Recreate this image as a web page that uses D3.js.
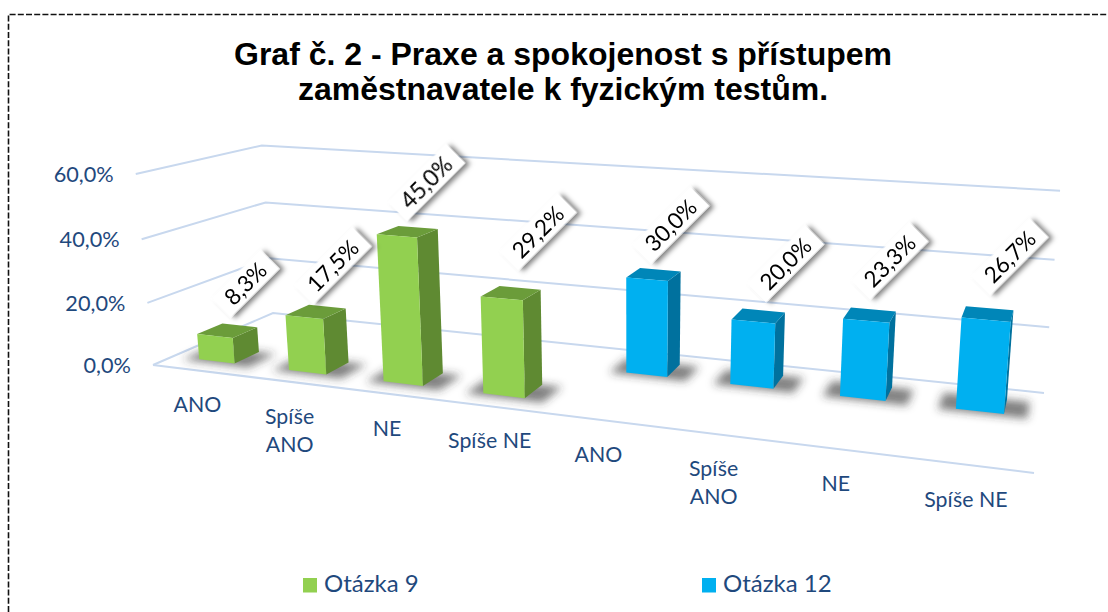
<!DOCTYPE html>
<html lang="cs">
<head>
<meta charset="utf-8">
<script src="https://cdn.jsdelivr.net/npm/d3@7"></script>
<style>
html,body{margin:0;padding:0;background:#fff;overflow:hidden}
svg{display:block}
</style>
</head>
<body>
<svg id="c" width="1108" height="612"></svg>
<script>
// ---- data ----
const titleLines = ["Graf č. 2 - Praxe a spokojenost s přístupem", "zaměstnavatele k fyzickým testům."];
const categories = ["ANO", "Spíše ANO", "NE", "Spíše NE", "ANO", "Spíše ANO", "NE", "Spíše NE"];
const seriesNames = ["Otázka 9", "Otázka 12"];
const valuesQ9 = [8.3, 17.5, 45.0, 29.2];
const valuesQ12 = [30.0, 20.0, 23.3, 26.7];
const yTicks = [0, 20, 40, 60];

// ---- palette ----
const palette = {
  "Otázka 9":  {front: "#92d050", side: "#5f8a32", top: "#6b9c3a"},
  "Otázka 12": {front: "#00b0f0", side: "#00719e", top: "#0086b8"}
};
const inkBlue = "#1f497d", gridCol = "#c8d8ee";

// ---- layout: hand-placed offsets of the value callouts, in slot order
const labelNudge = [[-4,2],[-5,3],[-3,0],[5,-12],[-5,0],[5,-3],[-2,-5],[0,-8]];

// ---- 3D camera: floor quad (front-left, front-right, back-right, back-left) plus vertical terms
const floorQuad = [[153,365],[1034,473],[1044,393],[273,313]];
const lift = {px:-22, py:-197, q:-0.035};

function camera(q){
  const [[x0,y0],[x1,y1],[x2,y2],[x3,y3]] = q;
  const dx1=x1-x2, dx2=x3-x2, sx=x0-x1+x2-x3, dy1=y1-y2, dy2=y3-y2, sy=y0-y1+y2-y3;
  const den=dx1*dy2-dx2*dy1, g=(sx*dy2-dx2*sy)/den, h=(dx1*sy-sx*dy1)/den;
  const a=x1-x0+g*x1, b=x3-x0+h*x3, d=y1-y0+g*y1, e=y3-y0+h*y3;
  return (u,w,t)=>{const s=g*u+h*w+1+lift.q*t; return [(a*u+b*w+x0+lift.px*t)/s,(d*u+e*w+y0+lift.py*t)/s];};
}
const cam = camera(floorQuad);
const yScale = d3.scaleLinear().domain([0,60]).range([0,1]);
const project = (u,w,v) => cam(u,w,yScale(v));
const uScale = d3.scaleBand().domain(d3.range(categories.length)).range([0,1]).paddingInner(0.6).paddingOuter(0.3);
const wScale = d3.scaleBand().domain(seriesNames).range([0,1]).paddingInner(0.6).paddingOuter(0.3);
const slotCenter = i => (i+0.5)/categories.length;

const comma = d3.formatLocale({decimal:",",thousands:" ",grouping:[3],currency:["","%"]}).format(".1f");
const pct = v => comma(v)+"%";

const rows = [];
valuesQ9.forEach((v,i)=>rows.push({series:seriesNames[0],slot:i,value:v}));
valuesQ12.forEach((v,i)=>rows.push({series:seriesNames[1],slot:i+valuesQ9.length,value:v}));

// ---- drawing ----
const svg = d3.select("#c");
const defs = svg.append("defs");
defs.append("filter").attr("id","blur").attr("x","-40%").attr("y","-80%").attr("width","180%").attr("height","260%")
  .append("feGaussianBlur").attr("stdDeviation",4.5);
const ds = defs.append("filter").attr("id","drop").attr("x","-30%").attr("y","-50%").attr("width","170%").attr("height","220%");
ds.append("feDropShadow").attr("dx",3).attr("dy",4).attr("stdDeviation",2.4).attr("flood-color","#000").attr("flood-opacity",0.5);

svg.append("path").attr("d","M8.5,612V14.5H1108").attr("fill","none").attr("stroke","#111")
  .attr("stroke-width",1.6).attr("stroke-dasharray","6 2.2");

svg.append("g").selectAll("text").data(titleLines).join("text")
  .attr("x",563).attr("y",(d,i)=>65+i*35).attr("text-anchor","middle")
  .attr("font-family","'Liberation Sans',Arial,sans-serif").attr("font-weight",700).attr("font-size",32)
  .attr("fill","#000").text(d=>d);

// gridlines
const line = d3.line();
const grid = svg.append("g").attr("fill","none").attr("stroke",gridCol).attr("stroke-width",2);
grid.selectAll("path.wall").data(yTicks).join("path").attr("class","wall")
  .attr("d",v=>line([project(0,0,v),project(0,1,v),project(1,1,v)]));
grid.append("path").attr("d",line([project(0,0,0),project(1,0,0)]));

// y axis labels
svg.append("g").selectAll("text").data(yTicks).join("text")
  .attr("x",v=>project(0,0,v)[0]-22).attr("y",v=>project(0,0,v)[1]+8)
  .attr("text-anchor","end").attr("font-family","Lato,sans-serif").attr("font-size",21.7).attr("fill",inkBlue)
  .text(pct);

// category labels
const catLines = c => c==="Spíše ANO" ? ["Spíše","ANO"] : [c];
const catG = svg.append("g").attr("font-family","Lato,sans-serif").attr("font-size",21.3).attr("fill",inkBlue).attr("text-anchor","middle");
categories.forEach((c,i)=>{
  const p = project(slotCenter(i),0,0);
  catG.selectAll(null).data(catLines(c)).join("text")
    .attr("x",p[0]).attr("y",(d,k)=>p[1]+42+k*28).text(d=>d);
});

// floor shadows
svg.append("g").attr("filter","url(#blur)").selectAll("path").data(rows).join("path")
  .attr("fill","#333").attr("opacity",0.62)
  .attr("d",d=>{
    const u0=uScale(d.slot)-0.018,u1=uScale(d.slot)+uScale.bandwidth()+0.024,w0=wScale(d.series)-0.03,w1=wScale(d.series)+wScale.bandwidth();
    return line([project(u0,w0,0),project(u1,w0,0),project(u1,w1,0),project(u0,w1,0)])+"Z";
  });

// bars
const bars = svg.append("g").selectAll("g").data(rows).join("g");
const corners = d => {
  const u0=uScale(d.slot),u1=u0+uScale.bandwidth(),w0=wScale(d.series),w1=w0+wScale.bandwidth();
  return {u0,u1,w0,w1};
};
bars.append("path").attr("fill",d=>palette[d.series].side).attr("d",d=>{
  const {u1,w0,w1}=corners(d);
  return line([project(u1,w0,0),project(u1,w1,0),project(u1,w1,d.value),project(u1,w0,d.value)])+"Z";
});
bars.append("path").attr("fill",d=>palette[d.series].top).attr("d",d=>{
  const {u0,u1,w0,w1}=corners(d);
  return line([project(u0,w0,d.value),project(u1,w0,d.value),project(u1,w1,d.value),project(u0,w1,d.value)])+"Z";
});
bars.append("path").attr("fill",d=>palette[d.series].front).attr("d",d=>{
  const {u0,u1,w0}=corners(d);
  return line([project(u0,w0,0),project(u1,w0,0),project(u1,w0,d.value),project(u0,w0,d.value)])+"Z";
});

// rotated value labels
const lab = svg.append("g").selectAll("g").data(rows).join("g")
  .attr("transform",d=>{
    const c=corners(d), p=project((c.u0+c.u1)/2,(c.w0+c.w1)/2,d.value), n=labelNudge[d.slot];
    return `translate(${p[0]+22+n[0]},${p[1]-49+n[1]}) rotate(-45)`;
  });
const labRect = lab.append("rect").attr("fill","#fff").attr("filter","url(#drop)");
const labText = lab.append("text").attr("text-anchor","middle").attr("y",8)
  .attr("font-family","Lato,sans-serif").attr("font-size",22.5).attr("fill","#000").text(d=>pct(d.value));
labText.each(function(d){ d.tw=this.getComputedTextLength(); });
labRect.attr("x",d=>-d.tw/2-10).attr("width",d=>d.tw+20).attr("y",-13.5).attr("height",27);

// legend
const legend = svg.append("g").selectAll("g").data(seriesNames).join("g")
  .attr("transform",(d,i)=>`translate(${d3.scaleOrdinal().domain(seriesNames).range([303,702])(d)},578)`);
legend.append("rect").attr("width",14).attr("height",14.5).attr("fill",d=>palette[d].front);
legend.append("text").attr("x",21).attr("y",14).attr("font-family","Lato,sans-serif").attr("font-size",24)
  .attr("fill",inkBlue).text(d=>d);
</script>
</body>
</html>
